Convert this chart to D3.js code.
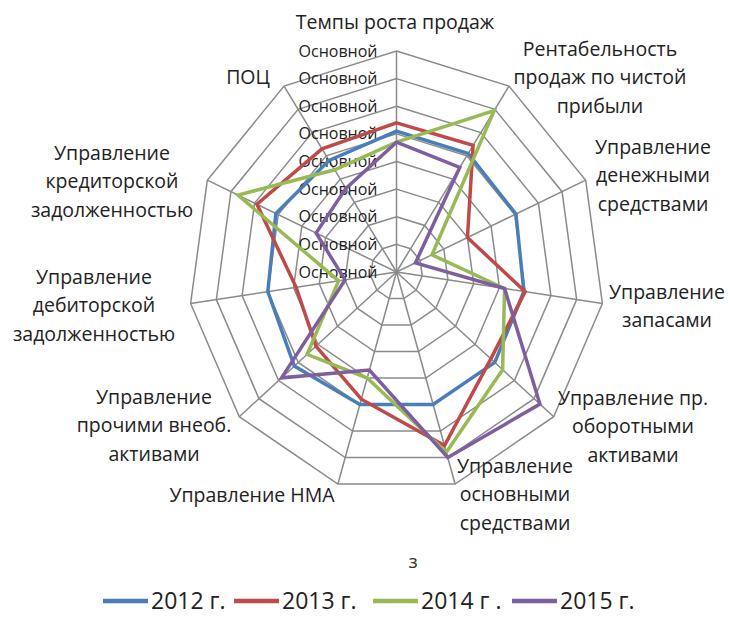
<!DOCTYPE html>
<html><head><meta charset="utf-8">
<script src="https://cdn.jsdelivr.net/npm/d3@7"></script>
<style>
html,body{margin:0;padding:0;background:#fff;}
svg{display:block;font-family:"Open Sans",sans-serif;}
</style></head>
<body>
<svg id="chart" width="738" height="628"></svg>
<script>
// ---- data ----
const categories = [
  "Темпы роста продаж",
  "Рентабельность продаж по чистой прибыли",
  "Управление денежными средствами",
  "Управление запасами",
  "Управление пр. оборотными активами",
  "Управление основными средствами",
  "Управление НМА",
  "Управление прочими внеоб. активами",
  "Управление дебиторской задолженностью",
  "Управление кредиторской задолженностью",
  "ПОЦ"
];
const categoryLines = [
  ["Темпы роста продаж"],
  ["Рентабельность","продаж по чистой","прибыли"],
  ["Управление","денежными","средствами"],
  ["Управление","запасами"],
  ["Управление пр.","оборотными","активами"],
  ["Управление","основными","средствами"],
  ["Управление НМА"],
  ["Управление","прочими внеоб.","активами"],
  ["Управление","дебиторской","задолженностью"],
  ["Управление","кредиторской","задолженностью"],
  ["ПОЦ"]
];
const seriesNames = ["2012 г.", "2013 г.", "2014 г .", "2015 г."];
const values2012 = [5.1, 5.1, 5.05, 4.95, 5.0, 5.0, 5.0, 5.2, 5.0, 5.1, 4.8];
const values2013 = [5.4, 5.45, 3.0, 5.0, 4.8, 6.55, 4.8, 4.1, 3.9, 5.9, 5.3];
const values2014 = [4.7, 6.95, 1.5, 4.2, 5.4, 6.8, 4.0, 4.55, 2.25, 6.7, 4.4];
const values2015 = [4.7, 4.5, 0.8, 4.2, 7.3, 7.0, 3.7, 5.85, 2.0, 3.4, 3.6];
const tickValues = [0, 1, 2, 3, 4, 5, 6, 7, 8];
const tickLabel = "Основной";
const footnote = "з";

// ---- layout ----
const colors = ["#4A7EBB", "#BE4B48", "#98B954", "#7D5FA0"];
const cx = 396.5, cy = 272, RX = 208, RY = 221;
// label centre positions (layout only)
const labelPos = [
  [395, 22], [600, 49], [653, 147], [667, 292], [633, 398], [515, 466],
  [252, 495], [154, 397], [94, 277], [112, 153], [248, 77]
];
const lineGap = 28.5;

const svg = d3.select("#chart");
const n = categories.length;
const angle = d3.scaleLinear().domain([0, n]).range([0, 2 * Math.PI]);
const rScale = d3.scaleLinear().domain([0, 8]).range([0, 1]);
const px = (i, v) => cx + RX * rScale(v) * Math.sin(angle(i));
const py = (i, v) => cy - RY * rScale(v) * Math.cos(angle(i));

// grid rings
const gGrid = svg.append("g");
tickValues.filter(t => t > 0).forEach(t => {
  gGrid.append("path")
    .attr("d", d3.line().curve(d3.curveLinearClosed)(d3.range(n).map(i => [px(i, t), py(i, t)])))
    .attr("fill", "none").attr("stroke", "#8a8a8a").attr("stroke-width", 1.5);
});
// spokes
d3.range(n).forEach(i => {
  gGrid.append("line")
    .attr("x1", cx).attr("y1", cy)
    .attr("x2", px(i, 8)).attr("y2", py(i, 8))
    .attr("stroke", "#8a8a8a").attr("stroke-width", 1.5);
});

// tick labels
svg.append("g").selectAll("text").data(tickValues).join("text")
  .attr("x", cx - 19)
  .attr("y", d => py(0, d))
  .attr("dy", "0.35em")
  .attr("text-anchor", "end")
  .attr("font-size", 16)
  .attr("fill", "#222")
  .text(tickLabel);

// series
const allSeries = [values2012, values2013, values2014, values2015];
const lineGen = d3.line().curve(d3.curveLinearClosed);
svg.append("g").selectAll("path").data(allSeries).join("path")
  .attr("d", vals => lineGen(vals.map((v, i) => [px(i, v), py(i, v)])))
  .attr("fill", "none")
  .attr("stroke", (d, k) => colors[k])
  .attr("stroke-width", 3.5)
  .attr("stroke-linejoin", "miter");

// category labels
const gLab = svg.append("g").attr("font-size", 19.5).attr("fill", "#222");
categoryLines.forEach((lines, i) => {
  const t = gLab.append("text").attr("text-anchor", "middle");
  lines.forEach((ln, j) => {
    t.append("tspan").attr("x", labelPos[i][0])
      .attr("y", labelPos[i][1] + j * lineGap).attr("dy", "0.35em").text(ln);
  });
});

// footnote glyph
svg.append("text").attr("x", 413).attr("y", 561).attr("dy", "0.35em")
  .attr("text-anchor", "middle").attr("font-size", 19).attr("fill", "#333").text(footnote);

// legend
const legendX = [103, 234, 373, 512];
const gLeg = svg.append("g");
seriesNames.forEach((name, k) => {
  gLeg.append("line").attr("x1", legendX[k]).attr("x2", legendX[k] + 45)
    .attr("y1", 601).attr("y2", 601)
    .attr("stroke", colors[k]).attr("stroke-width", 4.5);
  gLeg.append("text").attr("x", legendX[k] + 48).attr("y", 601).attr("dy", "0.35em")
    .attr("font-size", 23).attr("fill", "#222").text(name);
});
</script>
</body></html>
